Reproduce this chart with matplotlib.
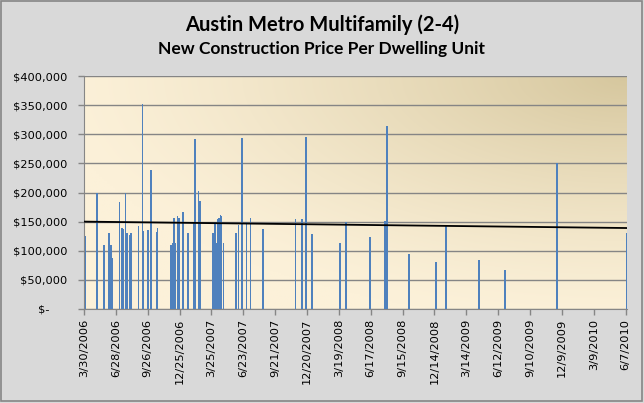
import matplotlib
matplotlib.use("Agg")
import matplotlib.pyplot as plt
import matplotlib.dates as mdates
from matplotlib.ticker import FuncFormatter
from matplotlib.patches import Rectangle
import numpy as np
from datetime import date, timedelta

# sale dates and price per dwelling unit
sale_dates = [
    "2006-04-03", "2006-05-06", "2006-05-26", "2006-06-09", "2006-06-14", "2006-06-18",
    "2006-07-08", "2006-07-16", "2006-07-20", "2006-07-25", "2006-07-29", "2006-08-05",
    "2006-08-10", "2006-08-31", "2006-09-11", "2006-09-13", "2006-09-27", "2006-10-06",
    "2006-10-21", "2006-10-24", "2006-12-01", "2006-12-05", "2006-12-10", "2006-12-14",
    "2006-12-19", "2006-12-24", "2007-01-03", "2007-01-17", "2007-02-02", "2007-02-06",
    "2007-02-16", "2007-02-21", "2007-03-30", "2007-04-01", "2007-04-04", "2007-04-08",
    "2007-04-12", "2007-04-16", "2007-04-20", "2007-04-22", "2007-04-28", "2007-06-03",
    "2007-06-09", "2007-06-20", "2007-07-02", "2007-07-13", "2007-08-18", "2007-11-17",
    "2007-12-06", "2007-12-17", "2008-01-03", "2008-03-22", "2008-04-08", "2008-06-15",
    "2008-07-27", "2008-08-02", "2008-10-03", "2008-12-18", "2009-01-15", "2009-04-19",
    "2009-07-01", "2009-11-25", "2010-06-10",
]
price = [
    125000, 200000, 110000, 131000, 110000, 87000,
    183000, 139000, 137000, 200000, 130000, 127000,
    130000, 142000, 352000, 134000, 136000, 239000,
    132000, 139000, 110000, 113000, 156000, 113000,
    159000, 156000, 167000, 131000, 150000, 292000,
    203000, 185000, 131000, 113000, 150000, 113000,
    155000, 157000, 162000, 159000, 113000, 130000,
    145000, 294000, 149000, 156000, 137000, 155000,
    155000, 295000, 128000, 114000, 149000, 124000,
    151000, 314000, 94000, 81000, 143000, 84000,
    67000, 250000, 130000,
]

# linear trendline as shown in the chart (value at axis start / end)
trend_values = [150000, 139000]

axis_start = date(2006, 3, 30)
axis_end = date(2010, 6, 11)
tick_step_days = 90
y_ticks = [0, 50000, 100000, 150000, 200000, 250000, 300000, 350000, 400000]

x = mdates.datestr2num(sale_dates)
y = np.array(price)

fig = plt.figure(figsize=(6.44, 4.03), dpi=100, facecolor="#D9D9D9")
fig.patches.append(Rectangle((0.002, 0.004), 0.995, 0.993, transform=fig.transFigure,
                             fill=False, edgecolor="#868686", linewidth=1.2))

ax = fig.add_axes([84 / 644, 1 - 309 / 403, 543 / 644, 233 / 403])

# plot area gradient: cream at bottom-left, tan at top-right
gx, gy = np.meshgrid(np.linspace(0, 1, 200), np.linspace(0, 1, 200))
d = np.sqrt(((1 - gx) ** 2 + (1 - gy) ** 2) / 2)
f = np.clip(1 - d / 0.75, 0, 1) ** 1.3
cream = np.array([252, 241, 217]) / 255
tan = np.array([214, 199, 158]) / 255
img = cream[None, None, :] * (1 - f[..., None]) + tan[None, None, :] * f[..., None]
ax.imshow(img, extent=[0, 1, 0, 1], transform=ax.transAxes, origin="lower",
          aspect="auto", zorder=0, interpolation="bilinear")

ax.bar(x, y, width=4.5, color="#4F81BD", linewidth=0, zorder=3)

x0 = mdates.date2num(axis_start)
x1 = mdates.date2num(axis_end)
ax.plot([x0, x1], trend_values, color="black", linewidth=1.3, zorder=4)

ax.set_xlim(x0, x1)
ax.set_ylim(0, 400000)
ax.set_yticks(y_ticks)
ax.yaxis.set_major_formatter(FuncFormatter(
    lambda v, p: "$-     " if v == 0 else "${:,.0f}".format(v)))
ax.grid(axis="y", color="#858585", linewidth=1, zorder=1)
ax.set_axisbelow(True)

ticks = []
t = axis_start
while t <= axis_end:
    ticks.append(t)
    t += timedelta(days=tick_step_days)
ax.set_xticks(mdates.date2num(ticks))
ax.set_xticklabels([f"{d.month}/{d.day}/{d.year}" for d in ticks], rotation=90)

ax.tick_params(axis="both", labelsize=8.2, color="#868686", length=4, width=1)
ax.tick_params(axis="x", pad=3)
ax.tick_params(axis="y", pad=8)
for s in ["top", "right"]:
    ax.spines[s].set_visible(False)
for s in ["left", "bottom"]:
    ax.spines[s].set_color("#868686")

fig.text(0.5, 1 - 25 / 403, "Austin Metro Multifamily (2-4)", ha="center", va="center",
         fontsize=14.5, fontweight="bold", family="Lato")
fig.text(0.5, 1 - 49 / 403, "New Construction Price Per Dwelling Unit", ha="center",
         va="center", fontsize=12.5, fontweight="bold", family="Lato")

fig.savefig("out.png", dpi=100, facecolor=fig.get_facecolor())
